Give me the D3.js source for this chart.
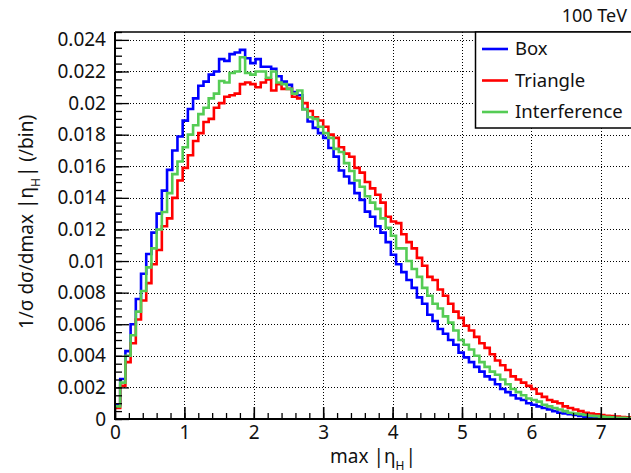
<!DOCTYPE html>
<html><head><meta charset="utf-8">
<script src="https://cdn.jsdelivr.net/npm/d3@7"></script>
<style>html,body{margin:0;padding:0;background:#fff;}svg{display:block;}</style>
</head><body>
<script>
// Normalised distributions of max|eta_H|, 100 bins of width 0.075 from 0 to 7.5
const binLow = 0, binHigh = 7.5, nBins = 100;

const box = [
0.00089,0.00253,0.0043,0.0060,0.0076,0.0092,0.01045,0.0118,0.0130,0.01446,
0.01577,0.0170,0.01788,0.01889,0.01963,0.0203,0.0211,0.02136,0.0218,0.0220,
0.02278,0.02267,0.0231,0.0232,0.02337,0.02284,0.02253,0.02278,0.0223,0.0223,
0.02217,0.0217,0.02136,0.02115,0.0207,0.0205,0.01963,0.01883,0.01843,0.0181,
0.0178,0.01716,0.01661,0.01573,0.01535,0.01493,0.0143,0.01387,0.01313,0.0128,
0.0122,0.0118,0.0112,0.0104,0.0098,0.0093,0.0088,0.0083,0.0077,0.0073,
0.0066,0.0062,0.0057,0.0054,0.0050,0.0047,0.0042,0.0039,0.0036,0.0033,
0.0030,0.0027,0.0025,0.0022,0.0019,0.0017,0.0015,0.0013,0.0012,0.0010,
0.0009,0.0008,0.0007,0.0006,0.0005,0.0004,0.00035,0.0003,0.00025,0.0002,
0.00015,0.00013,0.0001,0.00009,0.00007,0.00006,0.00005,0.00004,0.00003,0.00003];

const triangle = [
0.0007,0.0021,0.0036,0.0048,0.0063,0.0075,0.0086,0.0098,0.0107,0.0122,
0.0127,0.0140,0.0151,0.0159,0.0167,0.0176,0.0181,0.0188,0.0190,0.0197,
0.0200,0.0204,0.0205,0.0206,0.0212,0.0213,0.0212,0.0210,0.0213,0.0215,
0.0208,0.0212,0.0209,0.0209,0.0204,0.0203,0.0200,0.0195,0.0191,0.0189,
0.0185,0.0180,0.0178,0.0172,0.0168,0.0166,0.0159,0.0156,0.0150,0.0146,
0.0142,0.0137,0.0128,0.0125,0.0124,0.0117,0.0112,0.0108,0.0102,0.0097,
0.0090,0.0088,0.0082,0.0078,0.0073,0.0068,0.0064,0.0059,0.0056,0.0052,
0.0048,0.0045,0.0041,0.0037,0.0034,0.0031,0.0027,0.0025,0.0023,0.0021,
0.0019,0.0016,0.0014,0.0012,0.0011,0.0010,0.0008,0.0007,0.0006,0.0005,
0.0004,0.00035,0.0003,0.00025,0.0002,0.00018,0.00015,0.00012,0.0001,0.0001];

const interference = [
0.0008,0.0023,0.0040,0.0053,0.0068,0.0081,0.0096,0.0108,0.0120,0.0131,
0.0143,0.0155,0.0163,0.0172,0.0180,0.0186,0.0193,0.0197,0.0203,0.0206,
0.0214,0.0213,0.0219,0.0220,0.0229,0.0219,0.0218,0.0220,0.0220,0.0216,
0.0220,0.0213,0.0212,0.0209,0.0206,0.0208,0.0196,0.0191,0.0190,0.0185,
0.0181,0.0178,0.0171,0.0169,0.0162,0.0157,0.0151,0.0147,0.0141,0.0137,
0.0133,0.0127,0.0121,0.0116,0.0108,0.0108,0.0100,0.0095,0.0090,0.0083,
0.0078,0.0073,0.0070,0.0065,0.0061,0.0056,0.0050,0.0047,0.0044,0.0040,
0.0036,0.0033,0.0030,0.0028,0.0025,0.0022,0.0019,0.0017,0.0015,0.0013,
0.0012,0.0011,0.0009,0.0008,0.0007,0.0006,0.0005,0.0004,0.00035,0.0003,
0.00025,0.0002,0.00018,0.00015,0.00012,0.0001,0.00008,0.00007,0.00006,0.00005];

const seriesNames = ["Box", "Triangle", "Interference"];
const seriesColors = ["#0000ff", "#ff0000", "#55cc55"];
const seriesValues = [box, triangle, interference];

const xTicks = [0, 1, 2, 3, 4, 5, 6, 7];
const xTickLabels = ["0", "1", "2", "3", "4", "5", "6", "7"];
const yTicks = [0, 0.002, 0.004, 0.006, 0.008, 0.01, 0.012, 0.014, 0.016, 0.018, 0.02, 0.022, 0.024];
const yTickLabels = ["0", "0.002", "0.004", "0.006", "0.008", "0.01", "0.012", "0.014", "0.016", "0.018", "0.02", "0.022", "0.024"];
const energyLabel = "100 TeV";

const W = 631, H = 473;
const FONT = "'Noto Sans', 'Open Sans', sans-serif";
const plot = {left: 115, top: 32, bottom: 419, right: 635.5};

const x = d3.scaleLinear().domain([binLow, binHigh]).range([plot.left, plot.right]);
const y = d3.scaleLinear().domain([0, 0.0245]).range([plot.bottom, plot.top]);

const svg = d3.select("body").append("svg").attr("width", W).attr("height", H)
  .style("font-family", FONT);
svg.append("rect").attr("width", W).attr("height", H).attr("fill", "#fff");

svg.append("defs").append("clipPath").attr("id", "plotClip")
  .append("rect").attr("x", plot.left).attr("y", plot.top)
  .attr("width", plot.right - plot.left).attr("height", plot.bottom - plot.top);

// dotted grid at the major ticks
const grid = svg.append("g").attr("stroke", "#000").attr("stroke-width", 1)
  .attr("stroke-dasharray", "1,2").attr("fill", "none");
grid.selectAll("line.gx").data(xTicks.filter(t => t > 0)).join("line")
  .attr("x1", d => Math.round(x(d)) + 0.5).attr("x2", d => Math.round(x(d)) + 0.5)
  .attr("y1", plot.top).attr("y2", plot.bottom);
grid.selectAll("line.gy").data(yTicks.filter(t => t > 0)).join("line")
  .attr("y1", d => Math.round(y(d)) + 0.5).attr("y2", d => Math.round(y(d)) + 0.5)
  .attr("x1", plot.left).attr("x2", plot.right);

// step histograms
const binWidth = (binHigh - binLow) / nBins;
const step = d3.line().curve(d3.curveStepAfter).x(d => x(d[0])).y(d => y(d[1]));
const hg = svg.append("g").attr("clip-path", "url(#plotClip)");
seriesValues.forEach((vals, k) => {
  const pts = vals.map((v, i) => [binLow + i * binWidth, v]);
  pts.push([binHigh, vals[vals.length - 1]]);
  hg.append("path").attr("d", step(pts)).attr("fill", "none")
    .attr("stroke", seriesColors[k]).attr("stroke-width", 2.6)
    .attr("stroke-linejoin", "miter");
});

// axes
const yMinor = d3.range(0, 0.02451, 0.0005);
svg.append("g").attr("transform", `translate(${plot.left},0)`)
  .call(d3.axisLeft(y).tickValues(yMinor).tickFormat("").tickSizeInner(-7).tickSizeOuter(0))
  .call(g => g.select(".domain").remove())
  .call(g => g.selectAll("line").attr("stroke-width", 1.3));
svg.append("g").attr("transform", `translate(${plot.left},0)`)
  .call(d3.axisLeft(y).tickValues(yTicks).tickFormat((d, i) => yTickLabels[i])
    .tickSizeInner(-14).tickSizeOuter(0).tickPadding(9))
  .call(g => g.select(".domain").remove())
  .call(g => g.selectAll("line").attr("stroke-width", 1.3))
  .call(g => g.selectAll("text").attr("font-size", 19).attr("font-family", FONT).attr("fill", "#111"));

const xMinor = d3.range(0, 7.51, 0.2);
svg.append("g").attr("transform", `translate(0,${plot.bottom})`)
  .call(d3.axisBottom(x).tickValues(xMinor).tickFormat("").tickSizeInner(-6).tickSizeOuter(0))
  .call(g => g.select(".domain").remove())
  .call(g => g.selectAll("line").attr("stroke-width", 1.3));
svg.append("g").attr("transform", `translate(0,${plot.bottom})`)
  .call(d3.axisBottom(x).tickValues(xTicks).tickFormat((d, i) => xTickLabels[i])
    .tickSizeInner(-12).tickSizeOuter(0).tickPadding(7))
  .call(g => g.select(".domain").remove())
  .call(g => g.selectAll("line").attr("stroke-width", 1.6))
  .call(g => g.selectAll("text").attr("font-size", 19).attr("font-family", FONT).attr("fill", "#111"));

// frame
svg.append("line").attr("x1", plot.left).attr("x2", plot.left).attr("y1", plot.top).attr("y2", plot.bottom + 1)
  .attr("stroke", "#000").attr("stroke-width", 2);
svg.append("line").attr("x1", plot.left - 1).attr("x2", plot.right).attr("y1", plot.bottom).attr("y2", plot.bottom)
  .attr("stroke", "#000").attr("stroke-width", 2);
svg.append("line").attr("x1", plot.left).attr("x2", plot.right).attr("y1", plot.top).attr("y2", plot.top)
  .attr("stroke", "#000").attr("stroke-width", 1.5);

// axis titles
const xt = svg.append("text").attr("x", 373).attr("y", 463).attr("text-anchor", "middle")
  .attr("font-size", 19).attr("fill", "#111");
xt.append("tspan").text("max |\u03b7");
xt.append("tspan").attr("font-size", 12).attr("dy", 7).text("H");
xt.append("tspan").attr("dy", -7).attr("dx", 1).text("|");

const yt = svg.append("text").attr("transform", "translate(33,222) rotate(-90)")
  .attr("text-anchor", "middle").attr("font-size", 19).attr("fill", "#111");
yt.append("tspan").text("1/\u03c3 d\u03c3/dmax |\u03b7");
yt.append("tspan").attr("font-size", 12).attr("dy", 7).text("H");
yt.append("tspan").attr("dy", -7).attr("dx", 1).text("| (/bin)");

// energy label
svg.append("text").attr("x", 627).attr("y", 22).attr("text-anchor", "end")
  .attr("font-size", 18).attr("fill", "#111").text(energyLabel);

// legend
const lg = svg.append("g");
lg.append("rect").attr("x", 475.5).attr("y", plot.top).attr("width", 170).attr("height", 96)
  .attr("fill", "#fff").attr("stroke", "#000").attr("stroke-width", 1.5);
seriesNames.forEach((name, k) => {
  const cy = 49 + k * 31.5;
  lg.append("line").attr("x1", 482).attr("x2", 508).attr("y1", cy).attr("y2", cy)
    .attr("stroke", seriesColors[k]).attr("stroke-width", 2.6);
  lg.append("text").attr("x", 515).attr("y", cy).attr("dy", "0.35em")
    .attr("font-size", 18.5).attr("fill", "#111").text(name);
});
</script>
</body></html>
